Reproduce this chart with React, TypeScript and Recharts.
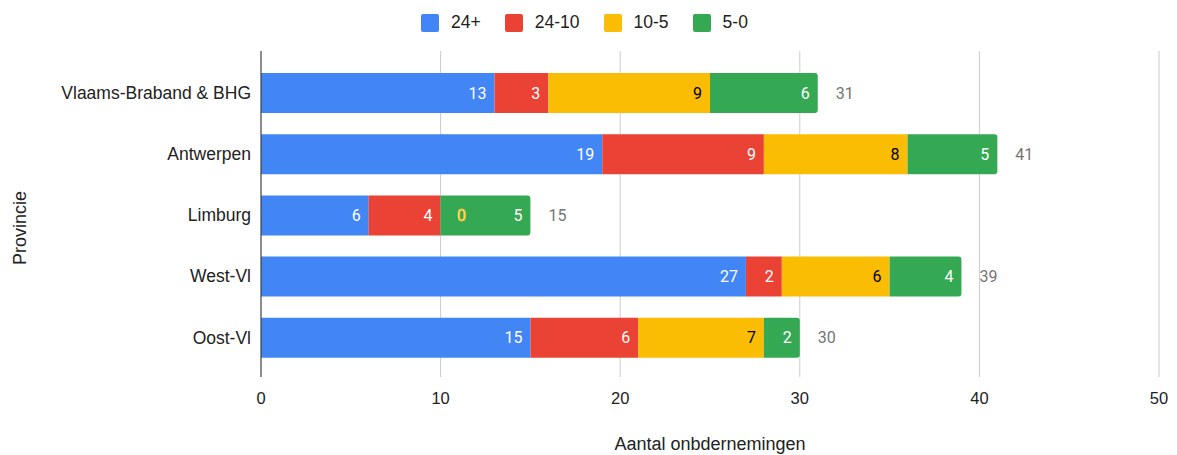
import { BarChart, Bar, XAxis, YAxis, CartesianGrid, LabelList } from "recharts"

const provinces = ["Vlaams-Braband & BHG", "Antwerpen", "Limburg", "West-Vl", "Oost-Vl"]
const over24 = [13, 19, 6, 27, 15]
const from24to10 = [3, 9, 4, 2, 6]
const from10to5 = [9, 8, 0, 6, 7]
const from5to0 = [6, 5, 5, 4, 2]
const totals = [31, 41, 15, 39, 30]
const xTicks = [0, 10, 20, 30, 40, 50]

const series = [
  { key: "a", name: "24+", color: "#4285F4", text: "#fff" },
  { key: "b", name: "24-10", color: "#EA4335", text: "#fff" },
  { key: "c", name: "10-5", color: "#FBBC04", text: "#000" },
  { key: "d", name: "5-0", color: "#34A853", text: "#fff" },
]

const data = provinces.map((name, i) => ({
  name,
  a: over24[i],
  b: from24to10[i],
  c: from10to5[i],
  d: from5to0[i],
  total: totals[i],
}))

const FONT = "'Liberation Sans', Arial, sans-serif"
const LABEL_FONT = "Roboto, 'Liberation Sans', Arial, sans-serif"

function segmentLabel(textColor: string) {
  // eslint-disable-next-line @typescript-eslint/no-explicit-any
  return (props: any) => {
    const { x, y, width, height, value } = props
    if (Number(value) === 0) return null
    return (
      <text x={Number(x) + Number(width) - 8} y={Number(y) + Number(height) / 2} textAnchor="end"
        dominantBaseline="central" fontSize={16} fontFamily={LABEL_FONT} fill={textColor}>
        {value}
      </text>
    )
  }
}

// zero-width yellow segments: label drawn on top of the green bar, at its start
// eslint-disable-next-line @typescript-eslint/no-explicit-any
function zeroLabel(props: any) {
  const { x, y, height, value } = props
  if (Number(value) !== 0) return null
  return (
    <text x={Number(x) + 21} y={Number(y) + Number(height) / 2} textAnchor="middle" dominantBaseline="central"
      fontSize={16} fontFamily={LABEL_FONT} fill="#fff" stroke="#FBBC04" strokeWidth={0.8}>
      {value}
    </text>
  )
}

// eslint-disable-next-line @typescript-eslint/no-explicit-any
function totalLabel(props: any) {
  const { x, y, width, height, value } = props
  return (
    <text x={Number(x) + Number(width) + 18} y={Number(y) + Number(height) / 2} textAnchor="start"
      dominantBaseline="central" fontSize={16} fontFamily={LABEL_FONT} fill="#757575">
      {value}
    </text>
  )
}

function Legend() {
  return (
    <div style={{ position: "absolute", top: 12, left: -4, width: 1177, display: "flex", justifyContent: "center", gap: 24, fontFamily: FONT, fontSize: 17.5, color: "#222" }}>
      {series.map((s) => (
        <div key={s.key} style={{ display: "flex", alignItems: "center", gap: 12 }}>
          <span style={{ width: 18, height: 18, borderRadius: 2, background: s.color, display: "inline-block" }} />
          <span>{s.name}</span>
        </div>
      ))}
    </div>
  )
}

export default function App() {
  return (
    <div style={{ position: "absolute", left: 0, top: 0, width: 1177, height: 455, background: "#fff" }}>
      <Legend />
      <BarChart width={1177} height={455} data={data} layout="vertical"
        margin={{ top: 51, right: 18, left: 0, bottom: 0 }} barSize={40} style={{ fontFamily: FONT }}>
        <CartesianGrid horizontal={false} stroke="#cccccc" />
        <XAxis type="number" domain={[0, 50]} ticks={xTicks} axisLine={false} tickLine={false}
          tickMargin={9} height={78} tick={{ fontSize: 16.5, fill: "#222" }}
          label={{
            content: () => (
              <text x={710} y={444} textAnchor="middle" dominantBaseline="central" fontSize={18} fontFamily={FONT} fill="#222">
                Aantal onbdernemingen
              </text>
            ),
          }} />
        <YAxis type="category" dataKey="name" width={261} axisLine={{ stroke: "#333" }} tickLine={false}
          tickMargin={4} padding={{ top: 11, bottom: 9 }} tick={{ fontSize: 17.5, fill: "#222" }}
          label={{
            content: () => (
              <text x={20} y={228} textAnchor="middle" dominantBaseline="central" fontSize={18} fontFamily={FONT} fill="#222"
                transform="rotate(-90 20 228)">
                Provincie
              </text>
            ),
          }} />
        {series.map((s, i) => (
          <Bar key={s.key} dataKey={s.key} name={s.name} stackId="p" fill={s.color} isAnimationActive={false}
            radius={i === series.length - 1 ? [0, 3, 3, 0] : 0}>
            <LabelList dataKey={s.key} content={segmentLabel(s.text)} />
            {i === series.length - 1 && <LabelList dataKey="c" content={zeroLabel} />}
            {i === series.length - 1 && <LabelList dataKey="total" content={totalLabel} />}
          </Bar>
        ))}
      </BarChart>
    </div>
  )
}
